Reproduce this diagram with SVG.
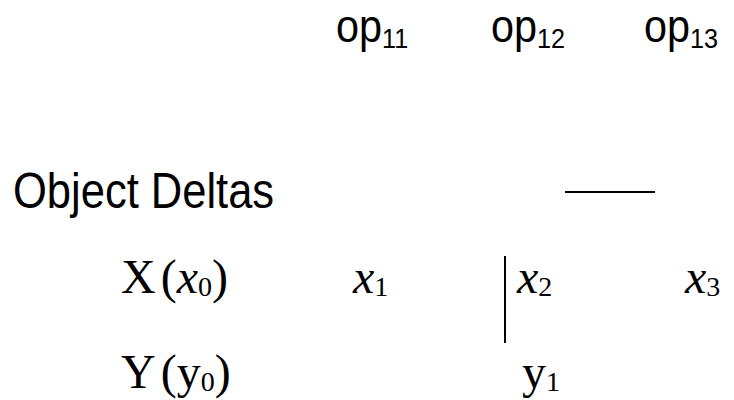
<svg xmlns="http://www.w3.org/2000/svg" width="734" height="400" viewBox="0 0 734 400">
<style>
.sans{font-family:"Liberation Sans",Arial,sans-serif;fill:#000}
.serif{font-family:"Liberation Serif","Times New Roman",serif;fill:#000;font-size:48px}
.op{font-size:46px}
.sub{font-size:28px}
.ssub{font-size:28px}
.sp{font-size:20px}
.it{font-style:italic}
.ln{stroke:#000;stroke-width:2;fill:none}
</style>
<rect width="734" height="400" fill="#fff"/>
<g id="op11" transform="translate(336,42) scale(0.9,1)"><text class="sans op">op<tspan class="sub" dy="6">11</tspan></text></g>
<g id="op12" transform="translate(491,42) scale(0.9,1)"><text class="sans op">op<tspan class="sub" dy="6">12</tspan></text></g>
<g id="op13" transform="translate(644,42) scale(0.9,1)"><text class="sans op">op<tspan class="sub" dy="6">13</tspan></text></g>
<g id="object-deltas" transform="translate(13,208) scale(0.87,1)"><text class="sans" font-size="50">Object Deltas</text></g>
<g id="X"><text class="serif" x="121" y="293">X<tspan class="sp"> </tspan>(<tspan class="it">x</tspan><tspan class="ssub" dy="3">0</tspan><tspan dy="-3">)</tspan></text></g>
<g id="x1"><text class="serif" x="353" y="293"><tspan class="it">x</tspan><tspan class="ssub" dy="3">1</tspan></text></g>
<g id="x2"><text class="serif" x="517" y="293"><tspan class="it">x</tspan><tspan class="ssub" dy="3">2</tspan></text></g>
<g id="x3"><text class="serif" x="685" y="293"><tspan class="it">x</tspan><tspan class="ssub" dy="3">3</tspan></text></g>
<g id="Y"><text class="serif" x="121" y="388">Y<tspan class="sp"> </tspan>(y<tspan class="ssub" dy="3">0</tspan><tspan dy="-3">)</tspan></text></g>
<g id="y1"><text class="serif" x="522" y="388">y<tspan class="ssub" dy="3">1</tspan></text></g>
<g id="connectors">
<line class="ln" x1="565" y1="192" x2="655" y2="192"/>
<line class="ln" x1="505" y1="256" x2="505" y2="343"/>
</g>
</svg>
